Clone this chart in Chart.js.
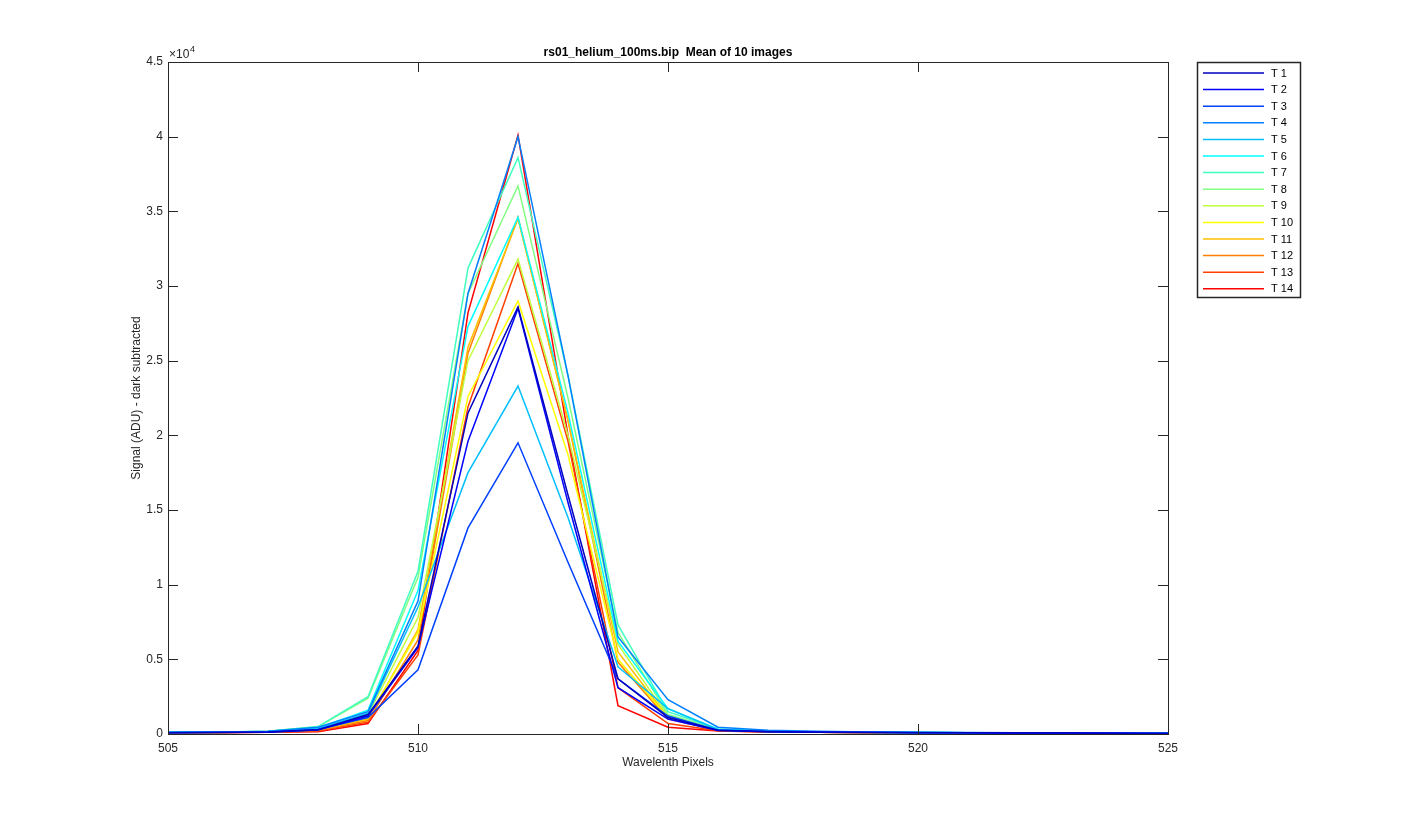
<!DOCTYPE html>
<html lang="en">
<head>
<meta charset="utf-8">
<title>rs01_helium_100ms.bip</title>
<script src="https://cdn.jsdelivr.net/npm/chart.js@4.4.0/dist/chart.umd.min.js"></script>
<style>
  html, body { margin: 0; padding: 0; background: #fff; }
  #wrap { width: 1425px; height: 825px; }
</style>
</head>
<body>
<div id="wrap"><canvas id="myChart" width="1425" height="825"></canvas></div>
<script>
// wavelength pixels on x
var pixels = [505, 506, 507, 508, 509, 510, 511, 512, 513, 514, 515, 516, 517, 518, 519, 520, 521, 522, 523, 524, 525];

var labels = ['T 1', 'T 2', 'T 3', 'T 4', 'T 5', 'T 6', 'T 7', 'T 8', 'T 9', 'T 10', 'T 11', 'T 12', 'T 13', 'T 14'];

// jet(14)
var colors = ['#0000BF', '#0000FF', '#0040FF', '#0080FF', '#00BFFF', '#00FFFF', '#40FFBF',
              '#80FF80', '#BFFF40', '#FFFF00', '#FFBF00', '#FF8000', '#FF4000', '#FF0000'];

var t1  = [90, 100, 130, 280, 1300, 5900, 21500, 28600, 16000, 3700, 1100, 250, 150, 120, 100, 90, 80, 70, 60, 50, 40];
var t2  = [90, 100, 120, 260, 1200, 5800, 19600, 28500, 15500, 3100, 1000, 240, 150, 120, 100, 90, 80, 70, 60, 50, 40];
var t3  = [100, 110, 140, 300, 1100, 4300, 13800, 19500, 11500, 3700, 1200, 260, 160, 130, 110, 95, 85, 75, 65, 55, 45];
var t4  = [110, 120, 180, 450, 1500, 8900, 29500, 40000, 24000, 6500, 2300, 450, 250, 180, 140, 110, 95, 80, 70, 60, 50];
var t5  = [100, 110, 160, 350, 1400, 8500, 17500, 23300, 14500, 4500, 1700, 300, 180, 140, 110, 95, 85, 75, 65, 55, 45];
var t6  = [110, 120, 170, 400, 1600, 9600, 27300, 34600, 21500, 6200, 1700, 320, 190, 140, 115, 100, 85, 75, 65, 55, 45];
var t7  = [120, 130, 190, 500, 2500, 10900, 31200, 38600, 24000, 7300, 1500, 330, 190, 140, 115, 100, 85, 75, 65, 55, 45];
var t8  = [115, 125, 180, 480, 2400, 10500, 29500, 36700, 22500, 6800, 1300, 300, 180, 135, 110, 95, 85, 75, 65, 55, 45];
var t9  = [100, 110, 150, 350, 1300, 7800, 25000, 31800, 20000, 6000, 1200, 280, 170, 130, 110, 95, 85, 75, 65, 55, 45];
var t10 = [95, 105, 140, 300, 1100, 6800, 22600, 29000, 18700, 5000, 1100, 270, 160, 125, 105, 90, 80, 70, 60, 50, 40];
var t11 = [95, 105, 140, 280, 1000, 7000, 25900, 34500, 21000, 5500, 1100, 260, 160, 125, 105, 90, 80, 70, 60, 50, 40];
var t12 = [90, 100, 130, 250, 900, 6300, 25500, 34600, 21000, 4800, 1000, 250, 150, 120, 100, 90, 80, 70, 60, 50, 40];
var t13 = [85, 95, 120, 200, 800, 5300, 21900, 31500, 19600, 3100, 700, 220, 140, 115, 95, 85, 75, 65, 55, 45, 35];
var t14 = [80, 90, 110, 150, 700, 5600, 28200, 40100, 20000, 1900, 450, 200, 130, 110, 90, 80, 70, 60, 50, 40, 30];

var series = [t1, t2, t3, t4, t5, t6, t7, t8, t9, t10, t11, t12, t13, t14];

var xTicks = [505, 510, 515, 520, 525];
var yMax = 45000;
var yStep = 5000;

var axisColor = '#262626';
var fontFam = '"Liberation Sans", Arial, sans-serif';

var datasets = [];
for (var i = 0; i < series.length; i++) {
    var pts = [];
    for (var j = 0; j < pixels.length; j++) {
        pts.push({ x: pixels[j], y: series[i][j] });
    }
    datasets.push({
        label: labels[i],
        data: pts,
        borderColor: colors[i],
        backgroundColor: colors[i],
        borderWidth: 1.5,
        pointRadius: 0,
        tension: 0,
        fill: false
    });
}

// MATLAB style box, inward ticks, title, exponent and legend
var matlabDecor = {
    id: 'matlabDecor',
    afterDraw: function (chart) {
        var c = chart.ctx;
        var a = chart.chartArea;
        var xs = chart.scales.x, ys = chart.scales.y;
        var tl = 10;
        c.save();
        c.strokeStyle = axisColor;
        c.lineWidth = 1;
        c.strokeRect(Math.round(a.left) + 0.5, Math.round(a.top) + 0.5,
                     Math.round(a.right - a.left), Math.round(a.bottom - a.top));
        c.beginPath();
        for (var k = 0; k < xTicks.length; k++) {
            var px = Math.round(xs.getPixelForValue(xTicks[k])) + 0.5;
            c.moveTo(px, a.bottom); c.lineTo(px, a.bottom - tl);
            c.moveTo(px, a.top); c.lineTo(px, a.top + tl);
        }
        for (var v = 0; v <= yMax; v += yStep) {
            var py = Math.round(ys.getPixelForValue(v)) + 0.5;
            c.moveTo(a.left, py); c.lineTo(a.left + tl, py);
            c.moveTo(a.right, py); c.lineTo(a.right - tl, py);
        }
        c.stroke();

        // exponent
        c.fillStyle = axisColor;
        c.font = '12px ' + fontFam;
        c.textAlign = 'left';
        c.textBaseline = 'alphabetic';
        c.fillText('\u00d710', a.left + 1, a.top - 4);
        c.font = '9px ' + fontFam;
        c.fillText('4', a.left + 22, a.top - 10);

        // title
        c.font = 'bold 12px ' + fontFam;
        c.textAlign = 'center';
        c.fillStyle = '#000';
        c.fillText('rs01_helium_100ms.bip  Mean of 10 images', (a.left + a.right) / 2, a.top - 6);

        // legend
        var lx = 1197, ly = 62, lw = 103, lh = 235, step = 16.6;
        c.fillStyle = '#fff';
        c.fillRect(lx, ly, lw, lh);
        c.strokeStyle = axisColor;
        c.lineWidth = 1.5;
        c.strokeRect(lx + 0.5, ly + 0.5, lw, lh);
        c.font = '11px ' + fontFam;
        c.textAlign = 'left';
        c.textBaseline = 'middle';
        for (var n = 0; n < datasets.length; n++) {
            var yy = ly + 11 + n * step;
            c.strokeStyle = datasets[n].borderColor;
            c.lineWidth = 1.5;
            c.beginPath();
            c.moveTo(lx + 6, yy); c.lineTo(lx + 67, yy);
            c.stroke();
            c.fillStyle = '#000';
            c.fillText(datasets[n].label, lx + 74, yy + 0.5);
        }
        c.restore();
    }
};

var ctx = document.getElementById('myChart').getContext('2d');
var chart = new Chart(ctx, {
    type: 'line',
    data: { datasets: datasets },
    plugins: [matlabDecor],
    options: {
        responsive: false,
        animation: false,
        layout: { padding: { left: 125, right: 257, top: 62, bottom: 51 } },
        plugins: {
            legend: { display: false },
            title: { display: false },
            tooltip: { enabled: false }
        },
        scales: {
            x: {
                type: 'linear',
                min: 505,
                max: 525,
                afterFit: function (s) { s.height = 40; },
                afterBuildTicks: function (s) {
                    s.ticks = xTicks.map(function (v) { return { value: v }; });
                },
                grid: { display: false, drawTicks: false, tickLength: 0 },
                border: { display: false },
                ticks: { color: axisColor, padding: 7, maxRotation: 0, font: { family: fontFam, size: 12 } },
                title: {
                    display: true,
                    text: 'Wavelenth Pixels',
                    color: axisColor,
                    padding: { top: 0, bottom: 4 },
                    font: { family: fontFam, size: 12 }
                }
            },
            y: {
                min: 0,
                max: yMax,
                afterFit: function (s) { s.width = 43; },
                grid: { display: false, drawTicks: false, tickLength: 0 },
                border: { display: false },
                ticks: {
                    stepSize: yStep,
                    color: axisColor,
                    padding: 5,
                    font: { family: fontFam, size: 12 },
                    callback: function (v) { return String(v / 10000); }
                },
                title: {
                    display: true,
                    text: 'Signal (ADU) - dark subtracted',
                    color: axisColor,
                    padding: { top: 4, bottom: 0 },
                    font: { family: fontFam, size: 12 }
                }
            }
        }
    }
});
</script>
</body>
</html>
